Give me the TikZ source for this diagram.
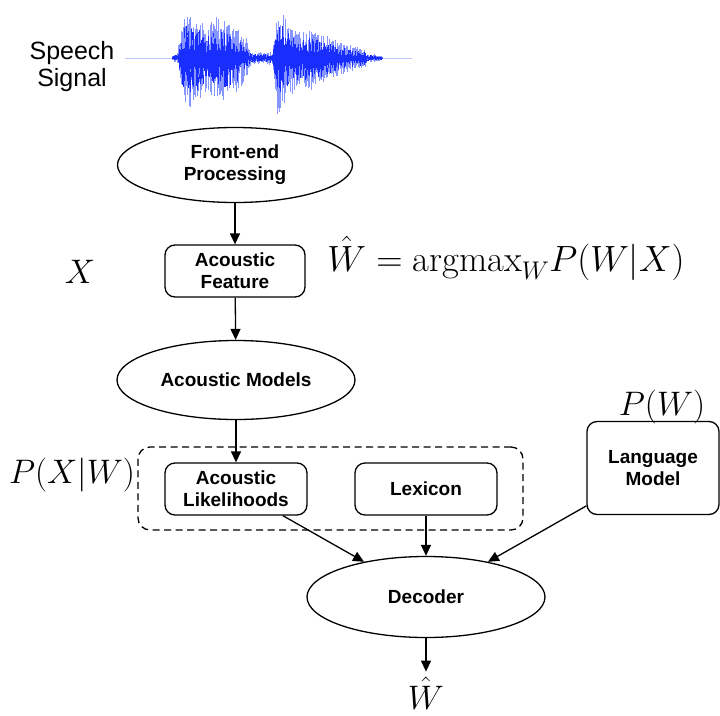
\RequirePackage{fix-cm}
\documentclass[tikz,border=0pt]{standalone}
\usepackage{fontspec}
\usetikzlibrary{arrows.meta,shapes.geometric}
\newfontfamily\labfont{Liberation Sans}

\definecolor{wavedark}{RGB}{25,45,255}
\definecolor{wavelight}{RGB}{135,150,255}
\definecolor{waveaxis}{RGB}{190,200,255}

\tikzset{
  blk/.style={draw, line width=1.3pt, font=\labfont\bfseries\fontsize{19}{22}\selectfont,
    align=center, inner sep=0pt},
  oval/.style={blk, ellipse},
  rbox/.style={blk, rectangle, rounded corners=10pt},
  flow/.style={line width=1.3pt, -{Triangle[length=11pt,width=10pt]}},
  mathlab/.style={font=\fontsize{34}{40}\selectfont, inner sep=0pt},
}

\begin{document}
\begin{tikzpicture}[x=1pt, y=-1pt]
\useasboundingbox (0,0) rectangle (720,715);

% speech waveform: random samples under a piecewise-linear envelope
\draw[waveaxis, line width=0.8pt] (125,58) -- (412,58);
\pgfmathsetseed{11}
\foreach \xa/\xb/\aa/\ab in {172/178/2/6, 178/184/10/44, 184/200/44/38, 200/208/36/28,
    208/215/30/40, 215/235/40/30, 235/248/30/18, 248/252/10/6, 252/273/5/6, 273/277/6/48,
    277/285/50/40, 285/300/35/28, 300/315/25/28, 315/335/25/18, 335/350/16/12,
    350/365/12/8, 365/382/5/2} {
  \pgfmathtruncatemacro\nsteps{(\xb-\xa)/0.6}
  \foreach \i in {0,...,\nsteps} {
    \pgfmathsetmacro\xx{\xa+0.6*\i}
    \pgfmathsetmacro\amp{\aa+(\ab-\aa)*(\xx-\xa)/(\xb-\xa)}
    \pgfmathsetmacro\up{\amp*(0.3+0.75*rnd)}
    \pgfmathsetmacro\dn{1.12*\amp*(0.3+0.75*rnd)}
    \draw[wavelight, line width=0.45pt] (\xx,58-\up) -- (\xx,58+\dn);
    \pgfmathsetmacro\upd{\amp*(0.2+0.55*rnd)}
    \pgfmathsetmacro\dnd{1.12*\amp*(0.2+0.55*rnd)}
    \draw[wavedark, line width=0.45pt] (\xx,58-\upd) -- (\xx,58+\dnd);
  }
}

\node[font=\labfont\fontsize{25}{27}\selectfont, align=center] (sig) at (72,67) {Speech\\Signal};

% processing chain
\node[oval, minimum width=235pt, minimum height=75pt] (fe) at (235,165) {Front-end\\Processing};
\node[rbox, minimum width=140pt, minimum height=52pt] (af) at (235,271) {Acoustic\\Feature};
\node[oval, minimum width=238pt, minimum height=79pt] (am) at (236,380) {Acoustic Models};
\node[rbox, minimum width=142pt, minimum height=52pt] (al) at (236,489) {Acoustic\\Likelihoods};
\node[rbox, minimum width=142pt, minimum height=52pt] (lex) at (426,489) {Lexicon};
\node[draw, line width=1.3pt, dash pattern=on 7pt off 4.5pt, rounded corners=12pt,
      minimum width=385pt, minimum height=83pt, inner sep=0pt] (am-group) at (330.5,488.5) {};
\node[rbox, minimum width=132pt, minimum height=93pt] (lm) at (653,468) {Language\\Model};
\node[oval, minimum width=238pt, minimum height=81pt] (dec) at (426,597) {Decoder};

% mathematical annotations
\node[mathlab, anchor=base] (xlab) at (80,283) {$X$};
\node[mathlab, anchor=base, font=\fontsize{36.5}{42}\selectfont] (rule) at (506,271)
  {$\hat{W}=\mathrm{argmax}_{W}P(W|X)$};
\node[mathlab, anchor=base] (pxw) at (72,483) {$P(X|W)$};
\node[mathlab, anchor=base] (pw) at (662,415) {$P(W)$};
\node[mathlab, anchor=base] (what) at (426,709) {$\hat{W}$};

% connectors
\draw[flow] (fe) -- (af);
\draw[flow] (af) -- (am);
\draw[flow] (am) -- (al);
\draw[flow] (al) -- (dec);
\draw[flow] (lex) -- (dec);
\draw[flow] (lm) -- (dec);
\draw[flow, shorten >=5pt] (dec) -- (what.north);
\end{tikzpicture}
\end{document}
